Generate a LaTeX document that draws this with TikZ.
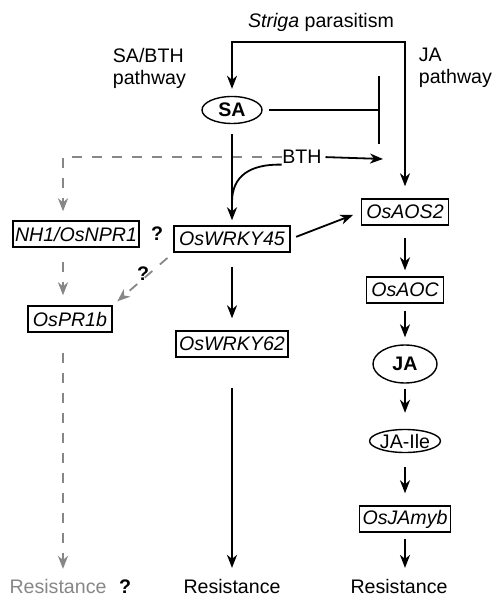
\documentclass[tikz,border=0pt]{standalone}
\usepackage{fontspec}
\setmainfont{Liberation Sans}
\usetikzlibrary{arrows.meta,shapes.geometric}
\definecolor{dashgray}{RGB}{135,135,135}
\newcommand{\diagfont}{\fontsize{9.8}{11}\selectfont}

\begin{document}
\begin{tikzpicture}[x=0.5pt,y=-0.5pt,line width=0.9pt,>={Stealth[length=6.5pt,width=5pt,inset=2pt]},
		every node/.style={font=\diagfont},
		plain/.style={inner sep=0pt},
		gene/.style={draw,rectangle,line width=0.7pt,inner xsep=2.5pt,inner ysep=0pt,minimum height=13pt,font=\diagfont\itshape},
		horm/.style={draw,ellipse,inner sep=0pt,line width=0.7pt},
		gdash/.style={dashgray,dash pattern=on 5pt off 5pt}]
			\useasboundingbox (0,0) rectangle (492,597);
			\node[plain,anchor=base] (striga) at (321,28) {\textit{Striga} parasitism};
			\node[plain,anchor=north west,align=left] (sabth) at (112,47) {SA/BTH\\pathway};
			\node[plain,anchor=north west,align=left] (japw) at (418,47) {JA\\pathway};
			\node[horm,minimum width=30pt,minimum height=13.5pt,font=\diagfont\bfseries] (SA) at (232,110) {SA};
			\node[plain] (BTH) at (302,157) {BTH};
			\node[gene,inner xsep=1pt] (NPR1) at (76,234) {NH1/OsNPR1};
			\node[gene] (PR1b) at (70,319) {OsPR1b};
			\node[gene] (WRKY45) at (232,239) {OsWRKY45};
			\node[gene,inner xsep=1.5pt] (WRKY62) at (232,344) {OsWRKY62};
			\node[gene] (AOS2) at (405,212) {OsAOS2};
			\node[gene] (AOC) at (405,290) {OsAOC};
			\node[horm,minimum width=32pt,minimum height=19pt,font=\diagfont\bfseries] (JA) at (405,364) {JA};
			\node[horm,minimum width=35pt,minimum height=11.5pt] (JAIle) at (405,441) {JA-Ile};
			\node[gene,inner xsep=1.5pt] (JAmyb) at (405,519) {OsJAmyb};
			\node[plain,anchor=base,text=dashgray] (R1) at (58,593) {Resistance};
			\node[plain,anchor=base] (R2) at (232,593) {Resistance};
			\node[plain,anchor=base] (R3) at (399,593) {Resistance};
			\node[plain,font=\diagfont\bfseries] (q1) at (157,234) {?};
			\node[plain,font=\diagfont\bfseries] (q2) at (143,274) {?};
			\node[plain,anchor=base,font=\diagfont\bfseries] (q3) at (125,593) {?};
			\coordinate (top) at (321,42);
			\coordinate (T) at (380,110);
			\coordinate (bthend) at (383,159);
			\coordinate (join) at (232,202);
			\coordinate (lcol) at (63,0);
			\draw[->,shorten >=3.5pt] (top) -| (SA.north);
			\draw[->,shorten >=6pt] (top) -| (AOS2.north);
			\draw[-{Bar[width=34pt]},shorten <=3pt] (SA.east) -- (T);
			\draw[->,shorten <=1.5pt] (BTH.east) -- (bthend);
			\draw[gdash,->,shorten >=4.5pt] (BTH.west) -| (lcol |- NPR1.north);
			\draw[gdash,->,shorten <=7pt,shorten >=5pt] (lcol |- NPR1.south) -- (lcol |- PR1b.north);
			\draw[gdash,->,shorten <=10pt,shorten >=4.5pt] (lcol |- PR1b.south) -- (lcol |- R1.north);
			\draw[gdash,->,shorten <=4pt,shorten >=3pt] (WRKY45.south west) -- (PR1b.north east);
			\draw[->,shorten <=5pt,shorten >=2.5pt] (SA.south) -- (WRKY45.north);
			\draw (BTH.south west) .. controls (250,164) and (232,176) .. (join);
			\draw[->,shorten <=7pt,shorten >=6pt] (WRKY45.south) -- (WRKY62.north);
			\draw[->,shorten <=15pt,shorten >=5pt] (WRKY62.south) -- (R2.north);
			\draw[->,shorten <=3pt,shorten >=4pt] (WRKY45.east) -- (AOS2.west);
			\draw[->,shorten <=6pt,shorten >=3pt] (AOS2.south) -- (AOC.north);
			\draw[->,shorten <=3.5pt,shorten >=3.5pt] (AOC.south) -- (JA.north);
			\draw[->,shorten <=2.5pt,shorten >=8pt] (JA.south) -- (JAIle.north);
			\draw[->,shorten <=7pt,shorten >=6pt] (JAIle.south) -- (JAmyb.north);
			\draw[->,shorten <=3pt,shorten >=5pt] (JAmyb.south) -- (JAmyb.south |- R3.north);
		\end{tikzpicture}
\end{document}
